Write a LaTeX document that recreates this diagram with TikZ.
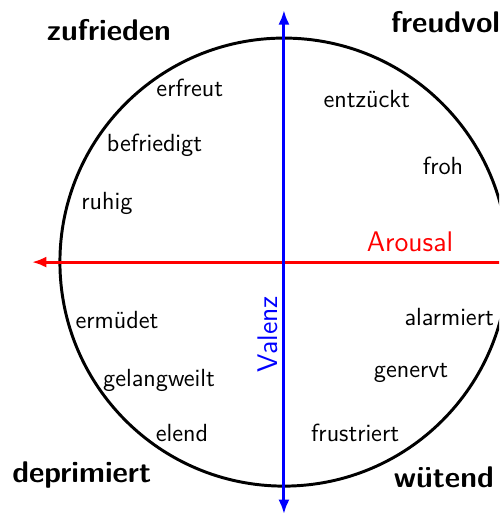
\documentclass[tikz,border=0pt]{standalone}
\usepackage{tikz}
\usetikzlibrary{arrows.meta}
\tikzset{axis/.style={{Latex[length=2.6mm,width=2mm]}-{Latex[length=2.6mm,width=2mm]},line width=1.5pt},
  mood/.style={font=\sffamily\fontsize{12.6}{15}\selectfont,text=black,inner sep=1pt},
  corner/.style={font=\sffamily\fontsize{15.2}{18}\selectfont\bfseries,text=black,inner sep=1pt},
  axlabel/.style={font=\sffamily\Large,inner sep=1pt}}

\begin{document}
\begin{tikzpicture}[x=1cm,y=1cm]
\clip (-5.07,-4.48) rectangle (3.84,4.68);
\draw[line width=1.5pt] (0,0) circle (4);
% axes
\coordinate (aleft) at (-4.5,0);
\coordinate (aright) at (4.5,0);
\coordinate (vtop) at (0,4.5);
\coordinate (vbot) at (0,-4.5);
\draw[axis,red] (aleft) -- (aright);
\draw[axis,blue] (vbot) -- (vtop);
\node[axlabel,text=red] (arousal) at (2.25,0.36) {Arousal};
\node[axlabel,text=blue,rotate=90] (valenz) at (-0.29,-1.29) {Valenz};
% corners
\node[corner] (zufrieden) at (-3.125,4.14) {zufrieden};
\node[corner,anchor=west] (freudvoll) at (1.87,4.29) {freudvol};
\node[corner] (deprimiert) at (-3.61,-3.80) {deprimiert};
\node[corner,anchor=east] (wuetend) at (3.79,-3.84) {wütend};
% moods
\node[mood] (erfreut) at (-1.68,3.11) {erfreut};
\node[mood] (entzueckt) at (1.48,2.91) {entzückt};
\node[mood] (befriedigt) at (-2.31,2.09) {befriedigt};
\node[mood] (froh) at (2.84,1.71) {froh};
\node[mood] (ruhig) at (-3.16,1.05) {ruhig};
\node[mood] (ermuedet) at (-2.98,-1.04) {ermüdet};
\node[mood] (alarmiert) at (2.95,-0.98) {alarmiert};
\node[mood] (gelangweilt) at (-2.23,-2.11) {gelangweilt};
\node[mood] (genervt) at (2.27,-1.98) {genervt};
\node[mood] (elend) at (-1.82,-3.05) {elend};
\node[mood] (frustriert) at (1.27,-3.05) {frustriert};
\end{tikzpicture}
\end{document}
